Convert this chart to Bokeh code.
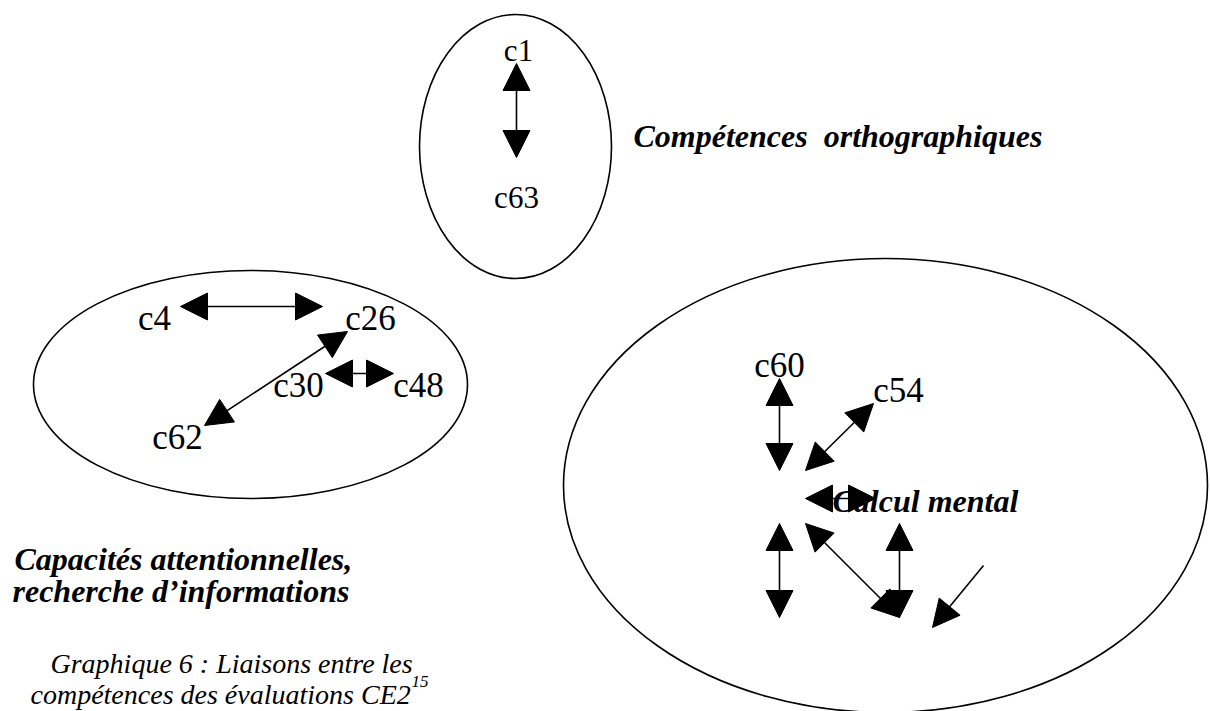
from bokeh.plotting import figure
from bokeh.models import Range1d, ColumnDataSource, Arrow, NormalHead
from bokeh.core.properties import value
from bokeh.embed import file_html
from bokeh.resources import INLINE

# ---- data (page pixel coordinates, y downwards) ----
group_cx = [515, 250, 885]
group_cy = [146, 384, 485]
group_w = [192, 434, 644]
group_h = [264, 228, 454]

node_names_small = ["c1", "c63"]
node_x_small = [518, 516]
node_y_small = [50, 197]

node_names = ["c4", "c26", "c30", "c48", "c62", "c60", "c54"]
node_x = [154, 370, 298, 418, 177, 779, 898]
node_y = [318, 318, 385, 385, 437, 365, 390]

# two-headed links
link_x0 = [516, 180, 347, 325, 779, 873, 805, 779, 805, 899]
link_y0 = [63, 306, 331, 373, 378, 403, 498, 523, 523, 523]
link_x1 = [516, 322, 204, 393, 779, 805, 875, 779, 899, 899]
link_y1 = [157, 306, 425, 373, 470, 470, 498, 617, 617, 617]

# one-headed link
single_x0 = [983]
single_y0 = [565]
single_x1 = [932]
single_y1 = [627]

group_labels = ["Compétences\u00a0 orthographiques", "Calcul mental",
                "Capacités attentionnelles,", "recherche d’informations"]
group_label_x = [633, 832, 14, 12]
group_label_y = [135, 500, 558, 590]

caption_lines = ["Graphique 6 : Liaisons entre les", "compétences des évaluations CE2"]
caption_x = [50, 30]
caption_y = [663, 694]
caption_sup = "15"
caption_sup_x = [411]
caption_sup_y = [681]

FONT = value("Liberation Serif, Times New Roman, serif")

W, H = 1210, 711
p = figure(width=W, height=H, x_range=Range1d(0, W), y_range=Range1d(H, 0),
           output_backend="svg", toolbar_location=None, min_border=0,
           x_axis_type=None, y_axis_type=None)
p.grid.visible = False
p.outline_line_color = None
p.background_fill_color = "white"
p.border_fill_color = "white"

p.ellipse(x=group_cx, y=group_cy, width=group_w, height=group_h,
          fill_color=None, line_color="black", line_width=1.6)

src = ColumnDataSource(dict(x0=link_x0, y0=link_y0, x1=link_x1, y1=link_y1))
p.add_layout(Arrow(x_start="x0", y_start="y0", x_end="x1", y_end="y1", source=src,
                   line_color="black", line_width=1.6,
                   start=NormalHead(size=27, fill_color="black", line_color="black", line_width=1),
                   end=NormalHead(size=27, fill_color="black", line_color="black", line_width=1)))
src1 = ColumnDataSource(dict(x0=single_x0, y0=single_y0, x1=single_x1, y1=single_y1))
p.add_layout(Arrow(x_start="x0", y_start="y0", x_end="x1", y_end="y1", source=src1,
                   line_color="black", line_width=1.6, start=None,
                   end=NormalHead(size=27, fill_color="black", line_color="black", line_width=1)))

p.text(x=node_x_small, y=node_y_small, text=node_names_small, text_font=FONT,
       text_font_size="31px", text_align="center", text_baseline="alphabetic", text_color="black")
p.text(x=node_x, y=node_y, text=node_names, text_font=FONT,
       text_font_size="35px", text_align="center", text_baseline="alphabetic", text_color="black")

p.text(x=group_label_x, y=group_label_y, text=group_labels, text_font=FONT,
       text_font_size="32px", text_font_style="bold italic", text_align="left",
       text_baseline="alphabetic", text_color="black")

p.text(x=caption_x, y=caption_y, text=caption_lines, text_font=FONT,
       text_font_size="28px", text_font_style="italic", text_align="left",
       text_baseline="alphabetic", text_color="black")
p.text(x=caption_sup_x, y=caption_sup_y, text=[caption_sup], text_font=FONT,
       text_font_size="17px", text_font_style="italic", text_align="left",
       text_baseline="alphabetic", text_color="black")

open("out.html", "w").write(file_html(p, INLINE))
